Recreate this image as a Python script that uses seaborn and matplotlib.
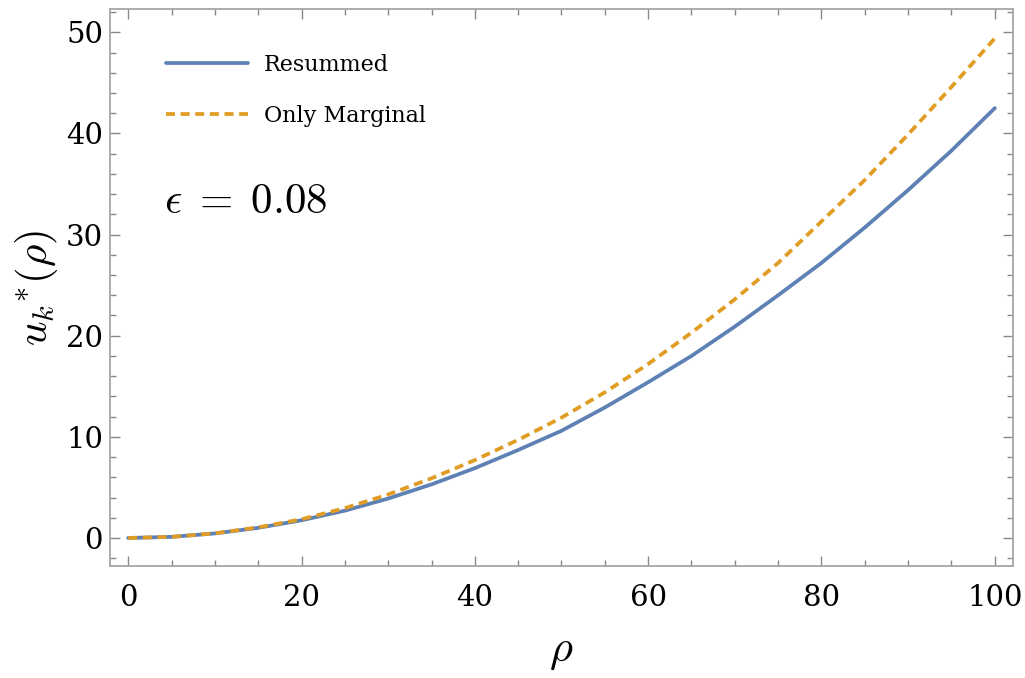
import pandas as pd
import matplotlib.pyplot as plt
import seaborn as sns
from matplotlib.ticker import MultipleLocator

# Values
rho = [0, 5, 10, 15, 20, 25, 30, 35, 40, 45, 50, 55, 60, 65, 70, 75, 80, 85, 90, 95, 100]
resummed = [0, 0.11, 0.45, 1.0, 1.75, 2.7, 3.9, 5.3, 6.9, 8.7, 10.6, 12.9, 15.4, 18.0,
            20.9, 24.0, 27.2, 30.7, 34.4, 38.3, 42.5]
only_marginal = [0, 0.11, 0.46, 1.05, 1.85, 2.95, 4.3, 5.9, 7.7, 9.7, 11.9, 14.4, 17.2,
                 20.3, 23.6, 27.2, 31.3, 35.4, 39.9, 44.6, 49.4]
series_names = ['Resummed', 'Only Marginal']

df = pd.DataFrame({
    'rho': rho * 2,
    'u': resummed + only_marginal,
    'series': [series_names[0]] * len(rho) + [series_names[1]] * len(rho),
})

sns.set_style('ticks')
plt.rcParams['font.family'] = ['DejaVu Serif']
plt.rcParams['mathtext.fontset'] = 'cm'
plt.rcParams['text.color'] = 'black'
plt.rcParams['axes.labelcolor'] = 'black'
plt.rcParams['xtick.labelcolor'] = 'black'
plt.rcParams['ytick.labelcolor'] = 'black'

fig = plt.figure(figsize=(10.25, 6.78), dpi=100)
ax = fig.add_axes([0.1073, 0.1652, 0.881, 0.8215])

palette = {'Resummed': '#5E81B5', 'Only Marginal': '#E19C24'}
dashes = {'Resummed': '', 'Only Marginal': (2.4, 1.5)}
sns.lineplot(data=df, x='rho', y='u', hue='series', style='series',
             palette=palette, dashes=dashes, linewidth=2.7, ax=ax)

ax.set_xlim(-2.1, 102.1)
ax.set_ylim(-2.77, 52.3)
ax.xaxis.set_major_locator(MultipleLocator(20))
ax.xaxis.set_minor_locator(MultipleLocator(5))
ax.yaxis.set_major_locator(MultipleLocator(10))
ax.yaxis.set_minor_locator(MultipleLocator(2))

for side in ax.spines.values():
    side.set_color('#a6a6a6')
    side.set_linewidth(1.3)

ax.tick_params(which='both', direction='in', top=True, right=True, color='#888888', width=1.0)
ax.tick_params(which='major', length=7)
ax.tick_params(which='minor', length=4)
ax.tick_params(axis='x', which='major', labelsize=21, pad=13)
ax.tick_params(axis='y', which='major', labelsize=21, pad=5)

ax.set_xlabel(r'$\rho$', fontsize=32, labelpad=12)
ax.set_ylabel(r'$u_k{}^{*}(\rho)$', fontsize=31, labelpad=4)

ax.text(0.06, 0.655, r'$\epsilon\;=\;0.08$', transform=ax.transAxes, fontsize=31, va='center')

leg = ax.legend(loc='upper left', bbox_to_anchor=(0.04, 0.955), frameon=False,
                fontsize=16, handlelength=3.7, handletextpad=0.7, labelspacing=1.3)

fig.savefig('out.png', dpi=100)
